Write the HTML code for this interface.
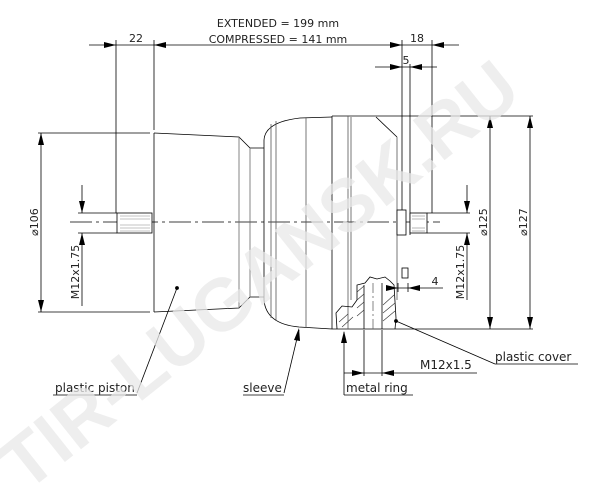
<!DOCTYPE html>
<html><head><meta charset="utf-8"><style>
html,body{margin:0;padding:0;background:#fff;width:606px;height:496px;overflow:hidden}
svg{display:block}
text{font-family:"DejaVu Sans","Liberation Sans",sans-serif;fill:#222}
</style></head><body>
<svg width="606" height="496" viewBox="0 0 606 496" xmlns="http://www.w3.org/2000/svg">
<g stroke="#000" stroke-width="0.8" fill="none">
<line x1="89" y1="45" x2="459" y2="45"/>
<path d="M104,42L116,45L104,48z M166,42L154,45L166,48z M390,42L402,45L390,48z M444,42L432,45L444,48z" fill="#000" stroke="none"/>
<line x1="116" y1="40" x2="116" y2="213"/>
<line x1="154" y1="40" x2="154" y2="130"/>
<line x1="402" y1="40" x2="402" y2="210"/>
<line x1="432" y1="40" x2="432" y2="213"/>
<line x1="375" y1="67" x2="437" y2="67"/>
<path d="M390,64L402,67L390,70z M422,64L410,67L422,70z" fill="#000" stroke="none"/>
<line x1="410" y1="64" x2="410" y2="235"/>
<line x1="70" y1="222" x2="440" y2="222" stroke-dasharray="22,4,3,4"/>
<path d="M154,133L239,137L250,148L264,148 M154,312L239,308L250,297L264,297"/>
<line x1="154" y1="133" x2="154" y2="312"/>
<line x1="239" y1="137" x2="239" y2="308" stroke="#666"/>
<line x1="250" y1="148" x2="250" y2="297" stroke="#666"/>
<line x1="38" y1="133" x2="150" y2="133"/>
<line x1="38" y1="312" x2="150" y2="312"/>
<line x1="41" y1="133" x2="41" y2="312"/>
<path d="M38,145L41,133L44,145z M38,300L41,312L44,300z" fill="#000" stroke="none"/>
<rect x="117" y="213" width="35" height="20" fill="#fff"/>
<g stroke="#888" stroke-width="0.6"><line x1="120" y1="216" x2="150" y2="216"/><line x1="120" y1="219" x2="150" y2="219"/><line x1="120" y1="225" x2="150" y2="225"/><line x1="120" y1="228" x2="150" y2="228"/><line x1="120" y1="231" x2="150" y2="231"/></g>
<line x1="78" y1="213" x2="117" y2="213"/><line x1="78" y1="233" x2="117" y2="233"/>
<line x1="82" y1="185" x2="82" y2="213"/><line x1="82" y1="233" x2="82" y2="306"/>
<path d="M79,201L82,213L85,201z M79,245L82,233L85,245z" fill="#000" stroke="none"/>
<path d="M264,297L264,140Q265,122 300,118L332,117"/>
<path d="M264,297L264,300Q266,324 299,327L332,329"/>
<line x1="271" y1="124" x2="271" y2="318" stroke="#555"/>
<line x1="276" y1="121" x2="276" y2="321" stroke="#555"/>
<line x1="306" y1="118" x2="306" y2="328" stroke="#555"/>
<line x1="332" y1="116" x2="533" y2="116"/>
<line x1="332" y1="329" x2="533" y2="329"/>
<line x1="332" y1="116" x2="332" y2="329"/>
<line x1="348" y1="116" x2="348" y2="329" stroke="#555"/>
<line x1="351" y1="117" x2="351" y2="300" stroke="#555"/>
<line x1="376" y1="117" x2="397" y2="137"/>
<line x1="397" y1="137" x2="397" y2="300" stroke="#555"/>
<rect x="397" y="210" width="9" height="25" fill="#fff"/>
<rect x="410" y="213" width="17" height="20" fill="#fff"/>
<g stroke="#888" stroke-width="0.6"><line x1="412" y1="216" x2="425" y2="216"/><line x1="412" y1="219" x2="425" y2="219"/><line x1="412" y1="228" x2="425" y2="228"/><line x1="412" y1="231" x2="425" y2="231"/></g>
<line x1="427" y1="213" x2="470" y2="213"/><line x1="427" y1="233" x2="470" y2="233"/>
<line x1="467" y1="185" x2="467" y2="213"/><line x1="467" y1="233" x2="467" y2="300"/>
<path d="M464,201L467,213L470,201z M464,245L467,233L470,245z" fill="#000" stroke="none"/>
<line x1="490" y1="116" x2="490" y2="329"/>
<line x1="530" y1="116" x2="530" y2="329"/>
<path d="M487,128L490,116L493,128z M487,317L490,329L493,317z M527,128L530,116L533,128z M527,317L530,329L533,317z" fill="#000" stroke="none"/>
<path d="M357,300L357,285L365,283L370,277L377,279L385,277L390,281L394,285L396,318L395,329"/>
<path d="M337,329L336,313L342,306L352,307L357,300"/>
<line x1="364" y1="285" x2="364" y2="329"/>
<line x1="382" y1="283" x2="382" y2="329"/>
<line x1="373" y1="283" x2="373" y2="329" stroke-dasharray="10,3,2,3" stroke="#666"/>
<g stroke="#333" stroke-width="0.6">
<line x1="357" y1="292" x2="364" y2="286"/><line x1="357" y1="300" x2="364" y2="294"/><line x1="357" y1="308" x2="364" y2="302"/><line x1="357" y1="316" x2="364" y2="310"/>
<line x1="383" y1="305" x2="394" y2="295"/><line x1="383" y1="313" x2="395" y2="303"/><line x1="383" y1="321" x2="395" y2="311"/>
<line x1="339" y1="322" x2="348" y2="314"/><line x1="342" y1="327" x2="353" y2="317"/>
</g>
<rect x="402" y="268" width="6" height="10"/>
<line x1="387" y1="288" x2="443" y2="288"/>
<line x1="398" y1="283" x2="398" y2="292"/><line x1="408" y1="283" x2="408" y2="292"/>
<path d="M386,285L398,288L386,291z M420,285L408,288L420,291z" fill="#000" stroke="none"/>
<line x1="364" y1="330" x2="364" y2="376"/><line x1="382" y1="330" x2="382" y2="376"/>
<line x1="344" y1="373" x2="477" y2="373"/>
<path d="M352,370L364,373L352,376z M394,370L382,373L394,376z" fill="#000" stroke="none"/>
<line x1="137" y1="393" x2="177" y2="288"/>
<circle cx="177" cy="288" r="1.5" fill="#000"/>
<line x1="53" y1="395" x2="137" y2="395"/>
<line x1="284" y1="393" x2="299" y2="330"/>
<path d="M294,340L299,328L300,341z" fill="#000" stroke="none"/>
<line x1="243" y1="395" x2="284" y2="395"/>
<line x1="344" y1="395" x2="344" y2="332"/>
<path d="M341,343L344,331L347,343z" fill="#000" stroke="none"/>
<line x1="344" y1="395" x2="413" y2="395"/>
<line x1="495" y1="364" x2="396" y2="321"/>
<circle cx="396" cy="321" r="1.5" fill="#000"/>
<line x1="495" y1="364" x2="578" y2="364"/>
</g>
<g font-size="11">
<text x="278" y="27" text-anchor="middle">EXTENDED = 199 mm</text>
<text x="278" y="43" text-anchor="middle">COMPRESSED = 141 mm</text>
<text x="136" y="42" text-anchor="middle">22</text>
<text x="417" y="42" text-anchor="middle">18</text>
<text x="406" y="64" text-anchor="middle">5</text>
<text x="435" y="285" text-anchor="middle">4</text>
<text x="55" y="392" font-size="12">plastic piston</text>
<text x="243" y="392" font-size="12">sleeve</text>
<text x="346" y="392" font-size="12">metal ring</text>
<text x="420" y="369" font-size="12">M12x1.5</text>
<text x="495" y="361" font-size="12">plastic cover</text>
<text transform="translate(38,222) rotate(-90)" text-anchor="middle">⌀106</text>
<text transform="translate(79,272) rotate(-90)" text-anchor="middle">M12x1.75</text>
<text transform="translate(464,272) rotate(-90)" text-anchor="middle">M12x1.75</text>
<text transform="translate(487,222) rotate(-90)" text-anchor="middle">⌀125</text>
<text transform="translate(527,222) rotate(-90)" text-anchor="middle">⌀127</text>
</g>
<text transform="translate(275,295) rotate(-38.5)" text-anchor="middle" font-size="74" font-weight="bold" style="fill:#e8e8e8;fill-opacity:0.75;font-family:'Liberation Sans',sans-serif">TIR-LUGANSK.RU</text>
</svg>
</body></html>
